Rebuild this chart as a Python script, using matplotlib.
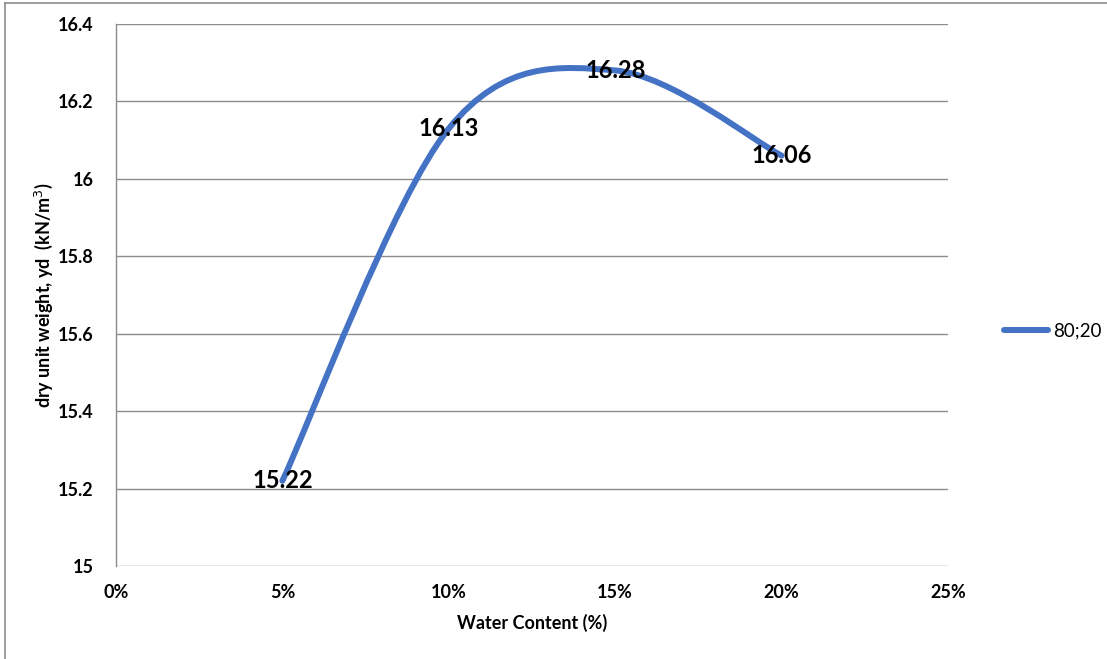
import matplotlib
matplotlib.use("Agg")
import matplotlib.pyplot as plt
from matplotlib.path import Path
from matplotlib.patches import PathPatch
from matplotlib.lines import Line2D
from matplotlib.ticker import FuncFormatter

# Proctor test, mix 80;20
water_content = [5, 10, 15, 20]          # %
dry_unit_weight = [15.22, 16.13, 16.28, 16.06]   # kN/m3
series_name = "80;20"

plt.rcParams["font.family"] = ["Lato", "DejaVu Sans"]

blue = "#4472C4"
grid_grey = "#8C8C8C"


def smooth_path(xs, ys):
    # Bezier segments through every point (Catmull-Rom style, tension 1/6)
    pts = list(zip(xs, ys))
    n = len(pts)
    verts = [pts[0]]
    codes = [Path.MOVETO]
    for i in range(n - 1):
        p0 = pts[max(i - 1, 0)]
        p1 = pts[i]
        p2 = pts[i + 1]
        p3 = pts[min(i + 2, n - 1)]
        c1 = (p1[0] + (p2[0] - p0[0]) / 6, p1[1] + (p2[1] - p0[1]) / 6)
        c2 = (p2[0] - (p3[0] - p1[0]) / 6, p2[1] - (p3[1] - p1[1]) / 6)
        verts += [c1, c2, p2]
        codes += [Path.CURVE4] * 3
    return Path(verts, codes)


fig = plt.figure(figsize=(11.07, 6.59), dpi=100)
ax = fig.add_axes([116 / 1107, 1 - 566 / 659, 832 / 1107, 542 / 659])

curve = PathPatch(smooth_path(water_content, dry_unit_weight), facecolor="none",
                  edgecolor=blue, linewidth=4.3, capstyle="round", joinstyle="round", zorder=3)
ax.add_patch(curve)

for x, y in zip(water_content, dry_unit_weight):
    ax.text(x, y, f"{y:.2f}", ha="center", va="center", fontsize=17,
            fontweight="bold", color="black", zorder=4)

ax.set_xlim(0, 25)
ax.set_ylim(15, 16.4)
ax.set_xticks([0, 5, 10, 15, 20, 25])
ax.set_yticks([15, 15.2, 15.4, 15.6, 15.8, 16, 16.2, 16.4])
ax.xaxis.set_major_formatter(FuncFormatter(lambda v, p: f"{v:.0f}%"))
ax.yaxis.set_major_formatter(FuncFormatter(lambda v, p: f"{v:g}"))
ax.tick_params(axis="both", length=0, labelsize=13)
ax.tick_params(axis="y", pad=16)
ax.tick_params(axis="x", pad=13)
for lbl in ax.get_xticklabels() + ax.get_yticklabels():
    lbl.set_fontweight("bold")

ax.yaxis.grid(True, color=grid_grey, linewidth=1)
ax.set_axisbelow(True)
for side in ["top", "bottom", "right"]:
    ax.spines[side].set_visible(False)
ax.spines["left"].set_color(grid_grey)
ax.spines["left"].set_linewidth(1)

ax.set_xlabel("Water Content (%)", fontsize=13, fontweight="bold", labelpad=9)
ax.set_ylabel("dry unit weight, yd  (kN/m$^3$)", fontsize=13, fontweight="bold", labelpad=2)

handle = Line2D([], [], color=blue, linewidth=4.3, solid_capstyle="round")
fig.legend([handle], [series_name], loc="center left", bbox_to_anchor=(995 / 1107, 1 - 331 / 659),
           frameon=False, fontsize=13.5, handlelength=2.3, handletextpad=0.3, borderpad=0)

# chart frame (top and left edges)
fig.add_artist(Line2D([5 / 1107, 1.0], [1 - 3 / 659] * 2, transform=fig.transFigure, color="#8C8C8C", lw=1.2))
fig.add_artist(Line2D([5 / 1107] * 2, [0, 1 - 3 / 659], transform=fig.transFigure, color="#8C8C8C", lw=1.2))

fig.savefig("out.png", dpi=100)
